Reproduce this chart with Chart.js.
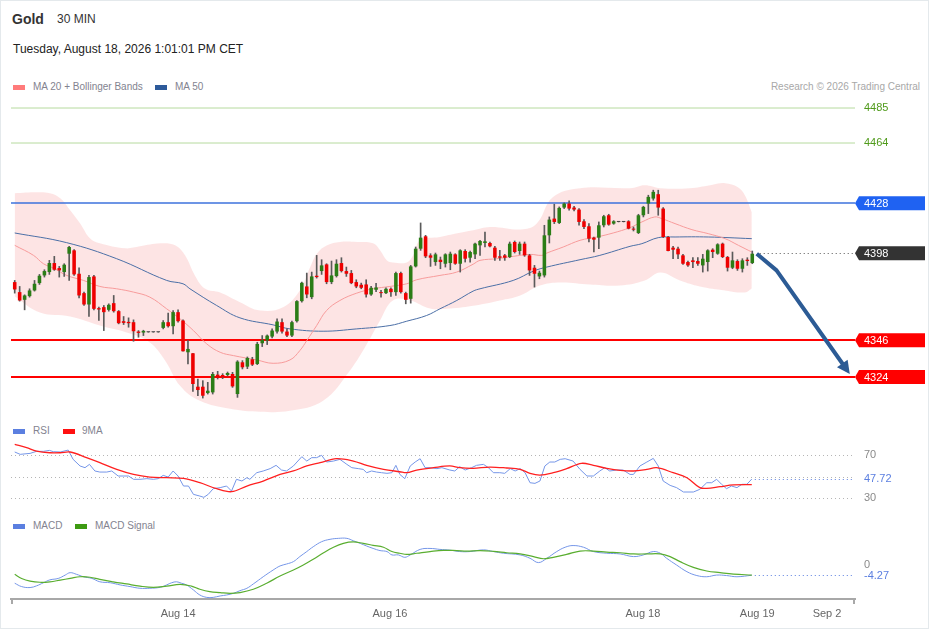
<!DOCTYPE html>
<html lang="en">
<head>
<meta charset="UTF-8" />
<title>Gold 30 MIN</title>
<script src="https://cdn.jsdelivr.net/npm/chart.js"></script>
<style>
  body { margin: 0; background: #fff; font-family: Arial, "Liberation Sans", sans-serif; }
  .frame { position: absolute; left: 0; top: 0; width: 927px; height: 627px; border: 1px solid #e4e9ec; }
  .t { position: absolute; white-space: nowrap; }
  .sw { position: absolute; width: 12px; height: 5px; }
  canvas { position: absolute; left: 0; }
  .leg { font-size: 10px; line-height: 12px; color: #83838f; }
</style>
</head>
<body>
<div class="frame"></div>

<div class="t" style="left:12px;top:10px;font-size:14px;line-height:18px;font-weight:bold;color:#333;">Gold</div>
<div class="t" style="left:57px;top:11px;font-size:12px;line-height:16px;color:#333;">30 MIN</div>
<div class="t" style="left:13px;top:41px;font-size:12px;line-height:16px;color:#222;">Tuesday, August 18, 2026 1:01:01 PM CET</div>

<div class="sw" style="left:13px;top:85px;background:#ff7b7b;"></div>
<div class="t leg" style="left:33px;top:81px;">MA 20 + Bollinger Bands</div>
<div class="sw" style="left:155px;top:85px;background:#2d5a9a;"></div>
<div class="t leg" style="left:175px;top:81px;">MA 50</div>
<div class="t leg" style="right:9px;top:81px;color:#a8a8a8;">Research © 2026 Trading Central</div>

<div class="sw" style="left:13px;top:429px;background:#5b7fe0;"></div>
<div class="t leg" style="left:33px;top:425px;">RSI</div>
<div class="sw" style="left:63px;top:429px;background:#ff1010;"></div>
<div class="t leg" style="left:82px;top:425px;">9MA</div>

<div class="sw" style="left:13px;top:524px;background:#5b7fe0;"></div>
<div class="t leg" style="left:33px;top:520px;">MACD</div>
<div class="sw" style="left:75px;top:524px;background:#3d9a12;"></div>
<div class="t leg" style="left:95px;top:520px;">MACD Signal</div>

<canvas id="priceChart" width="929" height="320" style="top:96px;"></canvas>
<canvas id="rsiChart" width="929" height="70" style="top:441px;"></canvas>
<canvas id="macdChart" width="929" height="99" style="top:530px;"></canvas>

<script>
// ---- candles (30 min) ----
const candleOpen = [4380.8,4374.8,4370.2,4372.4,4375.8,4380.2,4384.8,4386.8,4392.2,4389.2,4386.8,4397.8,4399.8,4385.8,4374.2,4367.4,4384.2,4365.2,4365.8,4364.2,
  4368.2,4363.4,4357.4,4357.0,4356.8,4351.2,4350.6,4350.8,4350.8,4350.8,4353.4,4356.8,4354.4,4362.8,4357.8,4338.8,4338.2,4318.2,4318.2,4314.4,
  4314.8,4325.4,4325.2,4325.2,4325.8,4313.8,4332.8,4330.2,4334.6,4331.8,4344.2,4345.8,4348.2,4351.2,4356.8,4351.2,4348.8,4357.4,4369.4,4378.2,
  4371.8,4384.6,4387.4,4391.4,4380.8,4384.4,4392.2,4387.4,4386.2,4380.8,4379.2,4379.4,4373.4,4376.2,4374.6,4374.2,4376.8,4374.8,4386.2,4374.2,
  4370.8,4390.2,4400.8,4408.2,4396.8,4392.8,4394.2,4391.8,4392.2,4397.4,4391.8,4399.4,4395.4,4397.4,4402.8,4404.2,4404.2,4401.4,4396.2,4396.8,
  4395.8,4404.8,4399.4,4403.8,4396.8,4389.4,4384.2,4384.8,4408.8,4418.8,4416.2,4425.4,4427.8,4425.4,4424.2,4417.2,4414.2,4407.4,4407.4,4414.8,
  4420.8,4415.8,4416.8,4416.8,4417.2,4412.8,4410.2,4420.8,4427.8,4430.8,4433.4,4424.8,4407.8,4401.4,4400.8,4396.8,4392.8,4393.8,4393.4,4390.8,
  4392.8,4400.2,4397.8,4403.8,4395.8,4389.4,4393.4,4388.8,4394.2,4392.2];
const candleHigh = [4381.8,4378.2,4373.2,4376.8,4381.8,4385.4,4388.2,4393.8,4396.2,4390.2,4391.8,4402.2,4400.2,4389.4,4374.8,4384.8,4384.8,4365.8,4366.8,4367.8,
  4372.8,4363.8,4360.2,4359.4,4358.2,4351.8,4352.0,4350.8,4350.8,4350.8,4357.8,4362.2,4363.8,4364.2,4358.2,4345.8,4338.2,4322.8,4321.8,4320.8,
  4326.8,4327.4,4326.0,4327.0,4326.8,4333.8,4333.8,4336.0,4335.8,4344.8,4348.8,4349.2,4352.8,4358.8,4358.8,4352.8,4357.4,4369.8,4380.8,4386.2,
  4386.8,4396.8,4394.2,4391.8,4393.4,4394.2,4395.4,4389.8,4387.8,4382.2,4380.2,4382.2,4378.2,4380.0,4375.8,4377.4,4377.4,4386.8,4386.8,4374.8,
  4390.8,4401.8,4416.2,4408.8,4397.8,4398.2,4395.8,4397.8,4398.8,4397.8,4400.2,4400.2,4399.4,4404.2,4405.8,4410.8,4404.8,4402.2,4399.8,4397.4,
  4404.8,4405.4,4404.8,4404.8,4397.4,4390.8,4387.4,4414.8,4419.8,4427.4,4425.8,4428.2,4429.4,4426.2,4424.8,4418.2,4415.8,4407.8,4416.8,4420.8,
  4421.4,4417.6,4416.8,4416.8,4417.6,4413.8,4421.4,4426.2,4432.8,4435.8,4435.8,4425.4,4408.2,4402.2,4401.8,4397.4,4393.4,4395.4,4395.4,4397.4,
  4400.2,4400.8,4403.8,4404.2,4396.2,4398.8,4394.2,4394.8,4395.4,4399.4];
const candleLow = [4374.2,4369.4,4364.2,4371.8,4375.4,4379.4,4383.8,4385.4,4387.8,4383.8,4384.2,4381.8,4384.8,4371.4,4366.8,4360.2,4364.2,4357.8,4351.8,4363.4,
  4362.8,4355.8,4355.4,4353.8,4345.4,4347.8,4348.8,4350.8,4350.8,4350.8,4352.8,4353.8,4349.8,4356.8,4339.4,4331.8,4315.4,4312.8,4311.4,4313.8,
  4313.8,4322.8,4323.0,4324.6,4317.8,4311.8,4328.8,4329.0,4330.8,4331.4,4342.2,4343.4,4347.4,4350.2,4350.2,4348.2,4348.2,4356.8,4368.8,4371.4,
  4370.8,4383.2,4385.4,4379.8,4379.8,4383.8,4386.8,4384.2,4379.8,4377.4,4376.8,4371.8,4372.8,4375.0,4371.8,4373.8,4372.2,4372.8,4374.2,4367.8,
  4368.2,4389.8,4399.8,4395.4,4390.2,4390.8,4388.8,4389.8,4388.2,4391.4,4386.8,4392.8,4392.8,4394.8,4396.8,4401.8,4401.8,4393.8,4393.8,4393.8,
  4395.4,4398.2,4397.4,4396.2,4384.8,4377.8,4382.8,4383.8,4404.2,4415.8,4415.8,4424.8,4423.8,4423.4,4414.8,4412.8,4404.8,4398.8,4400.8,4413.8,
  4414.8,4415.4,4416.8,4416.8,4412.6,4411.4,4409.8,4419.8,4421.8,4429.8,4420.8,4407.4,4399.4,4394.8,4394.8,4391.4,4390.2,4389.4,4390.8,4386.8,
  4387.4,4395.4,4397.4,4395.4,4387.4,4388.8,4387.8,4386.8,4390.8,4391.8];
const candleClose = [4376.4,4369.8,4372.8,4375.8,4379.8,4384.6,4387.4,4392.2,4388.2,4387.8,4391.2,4401.8,4385.4,4372.8,4367.4,4383.8,4364.8,4364.4,4362.8,4367.2,
  4363.4,4356.2,4356.4,4356.2,4351.4,4350.4,4351.6,4350.8,4350.8,4350.8,4356.8,4354.4,4362.8,4357.4,4339.4,4340.8,4319.8,4316.2,4312.8,4315.8,
  4325.8,4323.4,4323.8,4326.4,4318.4,4333.2,4329.8,4335.4,4331.4,4343.8,4346.2,4348.8,4351.8,4357.2,4351.2,4348.8,4356.8,4369.4,4380.4,4373.4,
  4384.2,4383.8,4390.8,4380.8,4384.8,4391.8,4387.4,4385.8,4380.2,4378.2,4377.4,4373.4,4377.4,4377.6,4374.2,4376.8,4374.8,4386.2,4374.8,4370.2,
  4390.2,4400.8,4407.4,4396.2,4395.4,4397.4,4392.8,4397.4,4397.8,4391.8,4399.8,4394.8,4398.8,4403.8,4405.4,4405.2,4402.2,4395.4,4395.4,4395.4,
  4403.8,4398.8,4403.8,4396.8,4387.8,4385.8,4386.4,4408.8,4418.2,4416.8,4425.2,4427.8,4424.8,4424.2,4416.8,4413.8,4406.8,4406.2,4414.8,4420.2,
  4415.2,4417.2,4416.8,4416.8,4412.8,4412.2,4420.8,4425.8,4431.8,4434.8,4425.4,4407.8,4399.4,4400.2,4397.4,4391.8,4390.8,4392.8,4391.8,4394.8,
  4399.8,4398.8,4403.4,4395.8,4389.4,4393.8,4388.8,4393.8,4393.4,4397.8];

// ---- overlays (x = candle number) ----
const ma20Idx = [0,3.8,5.8,8.1,10.5,13.9,17.2,20.6,24,27.3,30.7,33.4,36.1,38.8,41.5,44.2,48.9,52.2,55.6,57.6,59,61,63,65.7,69.1,72.4,75.8,79.2,81.2,85.9,
  89.3,92.6,94,97.4,100.7,104.1,106.5,107.5,110.8,114.2,117.6,120.9,124.3,126.7,129.3,130.7,133.4,136.8,140.1,143.5,146.2,148.9];
const ma20Val = [4402.8,4396.8,4391.8,4388.8,4384.8,4381.8,4378.2,4376.8,4374.8,4371.8,4364.8,4358.8,4351.8,4343.8,4338.8,4336.8,4334.2,4332.2,4334.2,4339.8,
  4345.8,4354.8,4363.8,4369.8,4374.2,4376.8,4378.2,4379.8,4382.2,4384.8,4386.8,4391.5,4393.8,4394.8,4396.2,4397.4,4396.8,4398.2,4401.8,4405.8,
  4407.8,4410.2,4413.4,4416.8,4419.8,4418.8,4415.8,4412.2,4409.8,4406.8,4402.8,4398.8];
const ma50Idx = [0,10.5,20.6,30.7,34,35.4,40.8,45.5,52.2,55.6,62.3,69.1,75.8,79.2,83.2,85.9,89.3,92.6,94,100.7,104.8,107.5,114.2,118.2,124.3,126.7,130,133.4,140.1,148.9];
const ma50Val = [4410.2,4404.4,4394.8,4381.8,4379.8,4376.8,4366.8,4359.4,4355.2,4352.8,4351.4,4352.8,4354.8,4357.4,4360.8,4364.8,4369.8,4375.4,4376.8,4381.8,
  4387.4,4389.8,4394.2,4396.8,4402.2,4403.8,4407.4,4407.8,4407.8,4406.8];
const bbUpperIdx = [0,4.5,7.1,9.2,11.2,13.2,15.2,17.2,22.3,25.3,29.4,32.4,34.4,36.4,38.4,41.5,45.5,49.6,54.2,57.6,59.7,61.1,63.1,65.7,69.2,72.4,73.8,75.2,76.4,79.2,
  80.5,81.9,85.9,89.4,92.6,96,102.7,105.5,108.7,114.2,124.3,127.3,130.4,136.4,140.5,143.5,146.1,147.5,148.9];
const bbUpperVal = [4434,4434.6,4434,4431,4423.8,4416,4407,4404,4401,4402.2,4404,4402.8,4396.8,4384.8,4377,4374.6,4368.8,4363.8,4365.8,4375.8,4389.8,4398,4402.8,4404.8,4404.8,4404,4399.8,4393.8,4392.6,4392.6,
  4396.8,4405.8,4407.8,4410,4411.8,4413.8,4412.4,4416,4431.6,4437,4437,4438.8,4437,4437,4438.8,4440,4437.6,4432.8,4422.6];
const bbLowerIdx = [0,5.1,11.2,17.2,23.3,27.3,30.4,33.4,37.4,43.5,49.6,55.6,62.3,67.7,71.2,73.8,76.4,79.9,83.9,87.9,93,98,102.1,106.1,110.2,116.2,122.3,127.3,130.4,134.4,
  138.4,143.5,147.5,148.9];
const bbLowerVal = [4372.2,4362.6,4360.2,4354.8,4350,4344.6,4333.8,4318.8,4309.8,4305,4303.2,4303.8,4309.8,4327.8,4344,4357.8,4369.8,4369.8,4365,4365,4366.8,4369.8,4372.8,4378.8,4380.6,4379.4,4378.8,4381.8,4386.6,4381.8,
  4378.2,4375.8,4374.6,4377];
const priceLevels = [4485, 4464, 4428, 4346, 4324];
const lastPrice = 4398;
const arrowIdx = [149.9, 153.9, 168.7];
const arrowPrice = [4397.8, 4387.8, 4325.8];

// ---- RSI ----
const rsiIdx = [0,1.1,3.1,4.4,5.8,7,7.8,9.2,10.8,11.8,13.2,14.2,15.1,16.2,17.2,18.6,19.6,20.9,21.9,23,24,25.3,26.7,28,29,30,31,32,33,34.1,
  35.1,36.1,37.4,38.2,39.1,40.1,41.5,42.8,43.8,44.8,45.9,46.9,47.5,48.9,50.2,51.6,52.8,53.9,54.9,56.3,58,59,60,61,62,63,64.4,65.7,67.1,68.1,
  69.4,70.4,71.1,72.1,73.1,74.1,75.2,76.2,77,77.8,78.8,79.9,80.9,81.9,82.9,83.9,85.3,86.3,87.9,88.9,89.9,91,92.3,93.3,94.7,95.7,96.7,98,99,100.1,
  101.1,102.1,103.1,104.1,105.1,106.1,107.1,108.1,109.1,110.2,111.2,112.8,114.2,115.6,116.9,118.2,119.2,120.2,121.6,122.9,124.3,125,126.3,127.7,129,130,131,132.4,133.7,135.1,
  137.1,138.4,139.8,140.8,141.8,142.8,143.8,144.8,145.9,146.9,147.9,148.9];
const rsiVal = [73.1,70.9,71.8,73.7,73.7,74.6,73.4,73.1,74.9,66.2,60,58.4,61.5,55.3,54.3,54.3,55.3,50.6,50.6,50.6,47.5,47.5,48.1,47.5,48.1,51.2,49.6,55.3,50.6,41.2,
  41.2,33.4,31.8,30.6,33.4,38.7,39.7,41.2,36.5,47.5,45.9,49,47.5,53.7,55.3,57.5,60.6,56.2,55.3,60,68.7,64.6,67.8,67.8,70,63.7,64.6,66.2,61.5,58.4,
  57.5,56.8,53.7,55.3,54.3,53.7,53.1,53.7,60.6,52.1,48.1,60,63.7,66.8,58.4,58.4,57.5,58.4,56.2,55.3,59.3,56.2,58.4,60.6,61.5,58.4,53.7,53.7,53.1,57.5,
  55.3,57.5,53.7,44.3,43.7,45.9,60,63.7,63.7,66.2,66.8,64.6,56.8,50.6,50.6,55.3,58.4,55.3,56.2,56.2,52.1,52.1,60,63.7,67.1,60,45.9,41.8,39.7,35.6,
  35.6,38.1,44.3,44.3,47.5,42.8,38.7,41.2,39.7,42.8,42.8,47.72];
const rsiMaIdx = [0,2.4,4.4,7.1,9.2,11.2,14.5,17.2,20.6,24,27.3,30.7,34.1,37.4,40.8,43.8,46.9,50.2,53.6,56.3,59,61.7,65,68.4,71.1,74.5,77.8,79.2,81.2,84.6,
  87.9,89.9,92.6,96,99.4,102.1,104.1,106.1,108.8,111.5,114.5,116.9,119.6,122.3,125,127.7,129.7,133,135.8,138.4,139.8,142.5,145.2,148.9];
const rsiMaVal = [80.3,77.1,74,72.4,72.4,73.1,67.8,63.1,56.8,52.1,49.6,49,48.4,44.3,38.7,35.9,41.2,45.9,52.1,55.3,60,63.1,66.8,64.6,60.6,56.8,54.6,53.7,56.2,58.4,
  60,58.4,57.8,59,58.1,56.8,53.1,51.5,53.7,57.5,62.5,60.6,57.8,55.9,55.3,56.8,58.4,53.7,49,39.7,39,40.6,42.2,42.5];
const rsiLevels = [70, 50, 30];
const rsiLast = 47.72;

// ---- MACD ----
const macdIdx = [0,1.4,3.1,4.4,5.8,7.1,8.8,10.2,11.2,12.5,13.9,15.6,17.2,19.3,21.3,23.3,25.3,27.3,29.4,30.7,31.7,32.7,33.7,34.7,36.1,37.4,38.8,40.1,41.5,42.8,
  44.2,45.5,46.9,48.2,50.2,52.2,53.6,54.9,56.3,57.6,59,60.3,62,63.7,65.4,67.1,68.4,69.8,71.1,72.4,73.8,75.2,76.2,77.5,78.8,79.9,81.9,83.9,85.9,87.9,
  89.9,92,94.7,96.7,98.7,102.1,104.1,105.8,107.5,109.5,111.2,112.8,114.9,116.9,119.6,122.3,125,127,129,130.4,131.7,133.7,135.8,137.8,139.8,141.8,143.8,145.9,148.9];
const macdVal = [-7.6,-9,-9.4,-8.7,-7.4,-6.2,-5.6,-4.2,-3.2,-3.9,-4.9,-5.6,-7,-7.4,-8.3,-9,-9.7,-9.7,-9.3,-8.3,-7.4,-7,-7.6,-8.3,-10.4,-12.5,-13.5,-13.5,-12.9,-12.5,
  -11.8,-10.7,-9.7,-7.9,-4.9,-2.1,-0.4,0.4,1.4,3.5,5.6,7.6,9.7,10.7,11.1,11.1,10.1,9,7.9,6.9,6,5.6,4.2,4.2,3.2,4.2,6.5,6.9,6.5,6.2,
  5.6,5.6,6.3,5.6,4.9,4.2,2.8,1,2.8,5.6,7.4,8.1,7.4,5.6,4.9,4.6,3.5,4.2,5.6,4.9,2.8,0,-2.8,-4.4,-4.9,-4.2,-4.4,-4.9,-4.27];
const signalIdx = [0,1.4,3.1,5.1,7.1,9.2,11.2,13.2,15.2,17.2,19.9,22.6,25.3,28,30.7,33.4,35.7,37.4,39.4,41.5,43.5,45.5,48.2,50.9,53.6,56.3,58.3,60.3,62.4,64.4,
  66.4,68.4,70.4,72.4,74.5,76.2,77.8,79.2,81.2,83.9,86.6,89.3,91.3,94,96.7,99.4,102.1,104.8,106.8,108.8,111.5,114.2,116.9,119.6,122.3,125,127.7,130.4,132.4,134.4,
  137.1,139.8,142.5,145.2,148.9];
const signalVal = [-3.9,-5.6,-6.7,-7.2,-7,-6.3,-5.6,-4.9,-5.1,-6,-7,-7.9,-8.8,-9.3,-8.8,-8.1,-8.8,-10.1,-11.1,-11.5,-11.8,-11.5,-10.1,-7.6,-4.6,-2.1,0,2.4,5.1,7.4,
  9,9.6,9,8.2,7.4,5.6,4.9,4.4,4.9,5.6,6.1,6,5.8,6,5.7,5.1,4.6,3.5,2.6,3.2,4.4,5.8,5.8,5.4,5.1,4.6,4.6,4.6,3.5,1.4,
  -1,-2.5,-3.2,-3.8,-4.2];
const macdLast = -4.27;

// ---- x axis ----
const xTickIdx = [33, 75.8, 126.9, 150, 164.1];
const xTickLabels = ['Aug 14', 'Aug 16', 'Aug 18', 'Aug 19', 'Sep 2'];

// ------------------------------------------------------------
Chart.defaults.font.family = 'Arial, "Liberation Sans", sans-serif';

const X_MIN = -0.75, X_MAX = 169.75;
const GREEN = '#2b7d16', RED = '#ee0000';
const LABEL_X = 864;

function pts(xs, ys) { return xs.map((x, i) => ({ x: x, y: ys[i] })); }
function lineDs(xs, ys, color, width, extra) {
  return Object.assign({ type: 'line', data: pts(xs, ys), borderColor: color, borderWidth: width,
    pointRadius: 0, tension: 0.4, fill: false }, extra || {});
}
function baseOptions(yMin, yMax) {
  return {
    responsive: false, animation: false,
    layout: { padding: { left: 11, right: 74, top: 0, bottom: 0 } },
    plugins: { legend: { display: false }, tooltip: { enabled: false } },
    scales: {
      x: { type: 'linear', min: X_MIN, max: X_MAX, display: false, offset: false },
      y: { min: yMin, max: yMax, display: false }
    }
  };
}
function hLine(ctx, x1, x2, y, color, width, dash) {
  ctx.save();
  ctx.strokeStyle = color; ctx.lineWidth = width;
  ctx.setLineDash(dash || []);
  ctx.beginPath(); ctx.moveTo(x1, y); ctx.lineTo(x2, y); ctx.stroke();
  ctx.restore();
}
function sideText(ctx, text, y, color) {
  ctx.save();
  ctx.font = '11px Arial, "Liberation Sans", sans-serif';
  ctx.fillStyle = color; ctx.textBaseline = 'middle'; ctx.textAlign = 'left';
  ctx.fillText(text, LABEL_X, y);
  ctx.restore();
}
function tag(ctx, text, y, bg) {
  ctx.save();
  ctx.fillStyle = bg;
  ctx.beginPath();
  ctx.moveTo(855, y);
  ctx.lineTo(859, y - 7);
  ctx.lineTo(925, y - 7);
  ctx.lineTo(925, y + 7);
  ctx.lineTo(859, y + 7);
  ctx.closePath(); ctx.fill();
  ctx.restore();
  sideText(ctx, text, y + 0.5, '#fff');
}

// ---- price panel ----
const idx = candleOpen.map((_, i) => i);
const bodyData = idx.map(i => ({ x: i, y: [candleOpen[i], candleClose[i]] }));
const wickData = idx.map(i => ({ x: i, y: [candleLow[i], candleHigh[i]] }));
const bodyColors = idx.map(i => candleClose[i] > candleOpen[i] ? GREEN : (candleClose[i] < candleOpen[i] ? RED : '#444'));

const levelStyle = [
  { color: '#b6da9e', width: 1 }, { color: '#b6da9e', width: 1 },
  { color: '#3d72dc', width: 1.5 }, { color: '#ff0000', width: 2 }, { color: '#ff0000', width: 2 }
];

const priceDeco = {
  id: 'priceDeco',
  afterDatasetDraw(chart, args) {
    if (args.index !== 4) return;
    const { ctx, chartArea: a, scales: { y } } = chart;
    priceLevels.forEach((p, k) => {
      hLine(ctx, a.left, a.right, Math.round(y.getPixelForValue(p)), levelStyle[k].color, levelStyle[k].width);
    });
  },
  afterDraw(chart) {
    const { ctx, chartArea: a, scales: { x, y } } = chart;
    // dotted last price
    const ly = Math.round(y.getPixelForValue(lastPrice)) + 0.5;
    hLine(ctx, x.getPixelForValue(idx.length + 0.5), a.right, ly, '#555', 1, [1, 3]);
    // forecast arrow
    const ax = arrowIdx.map(v => x.getPixelForValue(v));
    const ay = arrowPrice.map(v => y.getPixelForValue(v));
    const n = ax.length - 1;
    const dx = ax[n] - ax[n - 1], dy = ay[n] - ay[n - 1];
    const len = Math.hypot(dx, dy), ux = dx / len, uy = dy / len;
    const head = 13;
    ctx.save();
    ctx.strokeStyle = '#2c5b95'; ctx.fillStyle = '#2c5b95';
    ctx.lineWidth = 4; ctx.lineJoin = 'round'; ctx.lineCap = 'butt';
    ctx.beginPath(); ctx.moveTo(ax[0], ay[0]);
    for (let k = 1; k < n; k++) ctx.lineTo(ax[k], ay[k]);
    ctx.lineTo(ax[n] - ux * head * 0.8, ay[n] - uy * head * 0.8);
    ctx.stroke();
    ctx.beginPath();
    ctx.moveTo(ax[n], ay[n]);
    ctx.lineTo(ax[n] - ux * head - uy * 6.5, ay[n] - uy * head + ux * 6.5);
    ctx.lineTo(ax[n] - ux * head + uy * 6.5, ay[n] - uy * head - ux * 6.5);
    ctx.closePath(); ctx.fill();
    ctx.restore();
    // right side labels
    sideText(ctx, String(priceLevels[0]), y.getPixelForValue(priceLevels[0]), '#4f9a1a');
    sideText(ctx, String(priceLevels[1]), y.getPixelForValue(priceLevels[1]), '#4f9a1a');
    tag(ctx, String(priceLevels[2]), y.getPixelForValue(priceLevels[2]), '#1f62f2');
    tag(ctx, String(lastPrice), y.getPixelForValue(lastPrice), '#333333');
    tag(ctx, String(priceLevels[3]), y.getPixelForValue(priceLevels[3]), '#ff0000');
    tag(ctx, String(priceLevels[4]), y.getPixelForValue(priceLevels[4]), '#ff0000');
  }
};

new Chart(document.getElementById('priceChart'), {
  type: 'bar',
  data: {
    datasets: [
      { data: bodyData, backgroundColor: bodyColors, grouped: false, barPercentage: 0.72, categoryPercentage: 1, minBarLength: 1, order: 0 },
      { data: wickData, backgroundColor: '#5a5a5a', grouped: false, barThickness: 1, order: 1 },
      lineDs(ma20Idx, ma20Val, '#f79b9b', 1, { order: 2 }),
      lineDs(ma50Idx, ma50Val, '#4b6fa6', 1, { order: 3 }),
      lineDs(bbUpperIdx, bbUpperVal, 'rgba(0,0,0,0)', 0, { order: 4, fill: '+1', backgroundColor: 'rgba(250,190,190,0.42)' }),
      lineDs(bbLowerIdx, bbLowerVal, 'rgba(0,0,0,0)', 0, { order: 5 })
    ]
  },
  options: baseOptions(4300.66, 4492.18),
  plugins: [priceDeco]
});

// ---- RSI panel ----
const rsiDeco = {
  id: 'rsiDeco',
  beforeDatasetsDraw(chart) {
    const { ctx, chartArea: a, scales: { y } } = chart;
    rsiLevels.forEach(v => hLine(ctx, a.left, a.right - 3, Math.round(y.getPixelForValue(v)) + 0.5, '#b5b5b5', 1, [1, 3]));
  },
  afterDraw(chart) {
    const { ctx, chartArea: a, scales: { x, y } } = chart;
    const ly = Math.round(y.getPixelForValue(rsiLast)) + 0.5;
    hLine(ctx, x.getPixelForValue(rsiIdx[rsiIdx.length - 1]) + 3, a.right - 3, ly, '#5b7fe0', 1, [1, 3]);
    sideText(ctx, String(rsiLevels[0]), y.getPixelForValue(rsiLevels[0]), '#8a8a8a');
    sideText(ctx, String(rsiLevels[2]), y.getPixelForValue(rsiLevels[2]), '#8a8a8a');
    sideText(ctx, rsiLast.toFixed(2), y.getPixelForValue(rsiLast), '#5b7fe0');
  }
};
new Chart(document.getElementById('rsiChart'), {
  type: 'line',
  data: {
    datasets: [
      lineDs(rsiMaIdx, rsiMaVal, '#ff2020', 1.3, { tension: 0.35 }),
      lineDs(rsiIdx, rsiVal, '#7596e8', 1, { tension: 0 })
    ]
  },
  options: baseOptions(17.8, 83.4),
  plugins: [rsiDeco]
});

// ---- MACD panel ----
const macdOpts = baseOptions(-14.17, 14.58);
macdOpts.scales.x = {
  type: 'linear', min: X_MIN, max: X_MAX, offset: false, display: true, position: 'bottom',
  grid: { display: false, drawTicks: false },
  border: { display: true, color: '#a8a8a8', width: 2 },
  afterBuildTicks: s => { s.ticks = xTickIdx.map(v => ({ value: v })); },
  afterFit: s => { s.height = 30; },
  ticks: { autoSkip: false, maxRotation: 0, padding: 8, color: '#666', font: { size: 11 },
    callback: (v, i) => xTickLabels[i] }
};
const macdDeco = {
  id: 'macdDeco',
  afterDraw(chart) {
    const { ctx, chartArea: a, scales: { x, y } } = chart;
    ctx.save();
    ctx.strokeStyle = '#a8a8a8'; ctx.lineWidth = 2;
    ctx.beginPath();
    ctx.moveTo(a.left + 1, a.bottom); ctx.lineTo(a.left + 1, a.bottom + 5);
    ctx.moveTo(a.right - 1, a.bottom); ctx.lineTo(a.right - 1, a.bottom + 5);
    ctx.stroke();
    ctx.restore();
    const ly = Math.round(y.getPixelForValue(macdLast)) + 0.5;
    hLine(ctx, x.getPixelForValue(macdIdx[macdIdx.length - 1]) + 3, a.right - 3, ly, '#5b7fe0', 1, [1, 3]);
    sideText(ctx, '0', y.getPixelForValue(0), '#8a8a8a');
    sideText(ctx, macdLast.toFixed(2), y.getPixelForValue(macdLast) + 1, '#5b7fe0');
  }
};
new Chart(document.getElementById('macdChart'), {
  type: 'line',
  data: {
    datasets: [
      lineDs(signalIdx, signalVal, '#5aae30', 1.2, {}),
      lineDs(macdIdx, macdVal, '#7596e8', 1, {})
    ]
  },
  options: macdOpts,
  plugins: [macdDeco]
});
</script>
</body>
</html>
